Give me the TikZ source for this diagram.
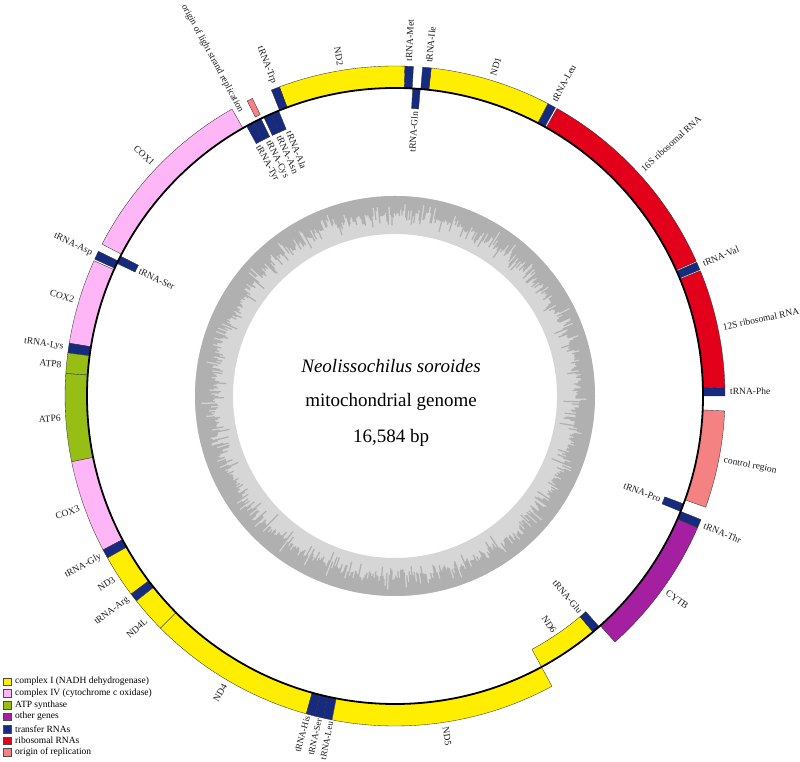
\documentclass[tikz,border=0pt]{standalone}
\usepackage{fontspec}
\setmainfont{Liberation Serif}
\definecolor{cI}{RGB}{255,238,0}
\definecolor{cIV}{RGB}{255,182,246}
\definecolor{cV}{RGB}{150,190,20}
\definecolor{coth}{RGB}{165,32,160}
\definecolor{ctr}{RGB}{22,42,128}
\definecolor{crr}{RGB}{226,0,26}
\definecolor{cori}{RGB}{245,130,130}
\definecolor{gclight}{RGB}{214,214,214}
\definecolor{gcdark}{RGB}{176,176,176}
\newcommand{\mtgene}[5]{\filldraw[genebox,fill=#5] (#1:#4pt) arc[start angle=#1,end angle=#2,radius=#4pt] -- (#2:#3pt) arc[start angle=#2,end angle=#1,radius=#3pt] -- cycle;}
\begin{document}
\begin{tikzpicture}[x=1pt,y=1pt,
  genebox/.style={draw=black!80,line width=0.35pt},
  lbl/.style={font=\fontsize{9.5}{9.5}\selectfont,inner sep=0pt,text=black!90},
  outR/.style={lbl,anchor=west},
  outL/.style={lbl,anchor=east},
  inR/.style={lbl,anchor=east},
  inL/.style={lbl,anchor=west},
  ctext/.style={font=\fontsize{19}{19}\selectfont,inner sep=0pt,anchor=base},
  legbox/.style={draw=black!70,line width=0.35pt},
  legtext/.style={font=\fontsize{9.5}{9.5}\selectfont,inner sep=0pt,anchor=west}]
\useasboundingbox (0,0) rectangle (800,762);
\begin{scope}[shift={(395,366)}]
  % GC content ring
  \fill[gclight,even odd rule] (0,0) circle[radius=200pt] (0,0) circle[radius=162pt];
  \pgfmathsetseed{11}
  \fill[gcdark,even odd rule] (0,0) circle[radius=200pt] (0:180pt)
    \foreach \a [evaluate=\a as \rr using {181+15*rand*abs(rand)}] in {0,0.4,...,359.6} { -- (\a:\rr pt) -- (\a+0.4:\rr pt) } -- cycle;
  % outer strand genes
  \mtgene{0}{1.5}{308}{330}{ctr}
  \mtgene{1.5}{22.3}{308}{330}{crr}
  \mtgene{22.5}{23.9}{308}{330}{ctr}
  \mtgene{24.1}{60.6}{308}{330}{crr}
  \mtgene{60.9}{62.4}{308}{330}{ctr}
  \mtgene{62.4}{83.7}{308}{330}{cI}
  \mtgene{83.7}{85.2}{308}{330}{ctr}
  \mtgene{86.8}{88.3}{308}{330}{ctr}
  \mtgene{88.3}{110.5}{308}{330}{cI}
  \mtgene{110.5}{112.0}{308}{330}{ctr}
  \mtgene{115.6}{116.6}{312}{330}{cori}
  \mtgene{119.6}{152.6}{308}{330}{cIV}
  \mtgene{154.0}{155.5}{308}{330}{ctr}
  \mtgene{155.8}{170.8}{308}{330}{cIV}
  \mtgene{170.8}{172.5}{308}{330}{ctr}
  \mtgene{172.5}{176.1}{308}{330}{cV}
  \mtgene{176.1}{191.5}{308}{330}{cV}
  \mtgene{191.5}{207.8}{308}{330}{cIV}
  \mtgene{207.8}{209.4}{308}{330}{ctr}
  \mtgene{209.4}{216.9}{308}{330}{cI}
  \mtgene{216.9}{218.4}{308}{330}{ctr}
  \mtgene{218.4}{224.7}{308}{330}{cI}
  \mtgene{224.7}{254.4}{308}{330}{cI}
  \mtgene{254.4}{255.9}{308}{330}{ctr}
  \mtgene{255.9}{257.4}{308}{330}{ctr}
  \mtgene{257.4}{259.0}{308}{330}{ctr}
  \mtgene{259.0}{298.4}{308}{330}{cI}
  \mtgene{311.8}{336.5}{308}{330}{coth}
  \mtgene{336.5}{338.0}{308}{330}{ctr}
  \mtgene{340.3}{357.4}{308}{330}{cori}
  % inner strand genes
  \mtgene{85.3}{86.7}{288}{308}{ctr}
  \mtgene{112.2}{113.7}{288}{308}{ctr}
  \mtgene{113.7}{115.2}{288}{308}{ctr}
  \mtgene{115.8}{117.3}{288}{308}{ctr}
  \mtgene{117.3}{118.8}{288}{308}{ctr}
  \mtgene{153.0}{154.5}{288}{308}{ctr}
  \mtgene{298.4}{310.0}{288}{308}{cI}
  \mtgene{310.0}{311.5}{288}{308}{ctr}
  \mtgene{338.0}{339.5}{288}{308}{ctr}
  % genome circle
  \draw[line width=1.8pt] (0,0) circle[radius=308pt];
  % outer labels, right half
  \node[outR,rotate=0.75] (lphe) at (0.75:335pt) {tRNA-Phe};
  \node[outR,rotate=11.9] (l12s) at (11.9:335pt) {12S ribosomal RNA};
  \node[outR,rotate=23.2] (lval) at (23.2:335pt) {tRNA-Val};
  \node[outR,rotate=42.4] (l16s) at (42.4:335pt) {16S ribosomal RNA};
  \node[outR,rotate=61.6] (lleu1) at (61.6:335pt) {tRNA-Leu};
  \node[outR,rotate=73.0] (lnd1) at (73.0:335pt) {ND1};
  \node[outR,rotate=84.2] (lile) at (84.2:335pt) {tRNA-Ile};
  \node[outR,rotate=87.6] (lmet) at (87.6:335pt) {tRNA-Met};
  \node[outR,rotate=278.7] (lnd5) at (278.7:335pt) {ND5};
  \node[outR,rotate=324.2] (lcytb) at (324.2:335pt) {CYTB};
  \node[outR,rotate=337.3] (lthr) at (337.3:335pt) {tRNA-Thr};
  \node[outR,rotate=348.9] (lcr) at (348.9:335pt) {control region};
  % outer labels, left half
  \node[outL,rotate=279.4] (lnd2) at (99.4:335pt) {ND2};
  \node[outL,rotate=291.2] (ltrp) at (111.2:335pt) {tRNA-Trp};
  \node[outL,rotate=298.4] (lol) at (118.4:323pt) {origin of light strand replication};
  \node[outL,rotate=316.2] (lcox1) at (136.2:335pt) {COX1};
  \node[outL,rotate=334.8] (lasp) at (154.8:335pt) {tRNA-Asp};
  \node[outL,rotate=343.3] (lcox2) at (163.3:335pt) {COX2};
  \node[outL,rotate=351.6] (llys) at (171.6:335pt) {tRNA-Lys};
  \node[outL,rotate=354.6] (latp8) at (174.6:335pt) {ATP8};
  \node[outL,rotate=363.8] (latp6) at (183.8:335pt) {ATP6};
  \node[outL,rotate=379.6] (lcox3) at (199.6:335pt) {COX3};
  \node[outL,rotate=388.6] (lgly) at (208.6:335pt) {tRNA-Gly};
  \node[outL,rotate=393.1] (lnd3) at (213.1:335pt) {ND3};
  \node[outL,rotate=397.2] (larg) at (217.2:335pt) {tRNA-Arg};
  \node[outL,rotate=402.0] (lnd4l) at (222.0:335pt) {ND4L};
  \node[outL,rotate=419.5] (lnd4) at (239.5:335pt) {ND4};
  \node[outL,rotate=434.7,font=\fontsize{9}{9}\selectfont] (lhis) at (254.7:332pt) {tRNA-His};
  \node[outL,rotate=436.8,font=\fontsize{9}{9}\selectfont] (lser2) at (256.8:332pt) {tRNA-Ser};
  \node[outL,rotate=438.8,font=\fontsize{9}{9}\selectfont] (lleu2) at (258.8:332pt) {tRNA-Leu};
  % inner labels, right half
  \node[inR,rotate=86.0] (lgln) at (86.0:285pt) {tRNA-Gln};
  \node[inR,rotate=304.0] (lnd6) at (304.0:285pt) {ND6};
  \node[inR,rotate=310.7] (lglu) at (310.7:285pt) {tRNA-Glu};
  \node[inR,rotate=338.7] (lpro) at (338.7:285pt) {tRNA-Pro};
  % inner labels, left half
  \node[inL,rotate=291.8] (lala) at (111.8:285pt) {tRNA-Ala};
  \node[inL,rotate=294.0] (lasn) at (114.0:285pt) {tRNA-Asn};
  \node[inL,rotate=296.5] (lcys) at (116.5:285pt) {tRNA-Cys};
  \node[inL,rotate=298.8] (ltyr) at (118.8:285pt) {tRNA-Tyr};
  \node[inL,rotate=333.8] (lser1) at (153.8:285pt) {tRNA-Ser};
\end{scope}
% centre text
\node[ctext] (species) at (391,389) {\itshape Neolissochilus soroides};
\node[ctext] (kind) at (391,355) {mitochondrial genome};
\node[ctext] (size) at (391,319) {16,584 bp};
% legend
\foreach \yy/\cc/\tt [count=\i] in {80.3/cI/complex I (NADH dehydrogenase),
  68.7/cIV/complex IV (cytochrome c oxidase),
  57/cV/ATP synthase,
  45.3/coth/other genes,
  33/ctr/transfer RNAs,
  21.3/crr/ribosomal RNAs,
  9.7/cori/origin of replication}{
  \filldraw[legbox,fill=\cc] (3.5,\yy-3.7) rectangle (11,\yy+3.7);
  \node[legtext] (leg\i) at (15,\yy) {\tt};
}
\end{tikzpicture}
\end{document}
